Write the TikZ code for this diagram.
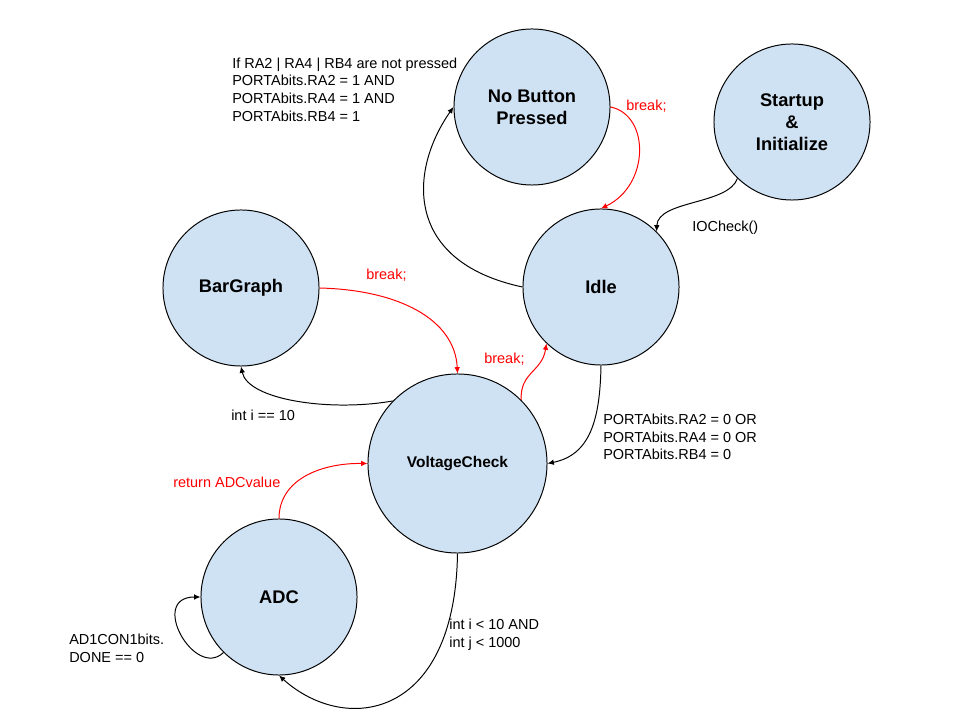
\documentclass[tikz,border=0pt]{standalone}
\usepackage{fontspec}
\setmainfont{Liberation Sans}
\usetikzlibrary{arrows.meta}
\definecolor{stfill}{HTML}{CFE2F3}
\definecolor{brk}{HTML}{FF0000}

\begin{document}
\begin{tikzpicture}[x=0.025cm,y=0.025cm,
   st/.style={circle,draw,fill=stfill,line width=0.7pt,minimum size=3.9cm,
    inner sep=0pt,align=center,font=\fontsize{13}{15.5}\selectfont\bfseries},
   lbl/.style={anchor=west,align=left,inner sep=0pt,
    font=\fontsize{10.3}{12.6}\selectfont},
   tr/.style={line width=0.7pt,-{Latex[length=4.5pt,width=4pt]}},
   trr/.style={tr,draw=brk}
    ]
    \useasboundingbox (0,0) rectangle (960,-720);

    % States:
    \node[st] at (532,-107) (nobtn) {No Button\\Pressed};
    \node[st] at (792,-122) (startup) {Startup\\\&\\Initialize};
    \node[st] at (601,-287) (idle) {Idle};
    \node[st] at (241,-288) (bar) {BarGraph};
    \node[st,minimum size=4.475cm,font=\fontsize{11}{13}\selectfont\bfseries]
        at (457.5,-463.5) (volt) {VoltageCheck};
    \node[st] at (279,-597) (adc) {ADC};

    % Labels:
    \node[lbl] at (232,-89.5) (notpressed) {If RA2 | RA4 | RB4 are not pressed\\
        PORTAbits.RA2 = 1 AND\\PORTAbits.RA4 = 1 AND\\PORTAbits.RB4 = 1};
    \node[lbl,text=brk] at (626,-106) (brk1) {break;};
    \node[lbl] at (692,-228) (iocheck) {IOCheck()};
    \node[lbl,text=brk] at (366,-275) (brk2) {break;};
    \node[lbl] at (231,-415) (iten) {int i == 10};
    \node[lbl,text=brk] at (484,-359) (brk3) {break;};
    \node[lbl] at (603,-437) (pressed) {PORTAbits.RA2 = 0 OR\\
        PORTAbits.RA4 = 0 OR\\PORTAbits.RB4 = 0};
    \node[lbl,text=brk] at (173,-482) (ret) {return ADCvalue};
    \node[lbl] at (449,-634.5) (ilt) {int i < 10 AND\\int j < 1000};
    \node[lbl] at (69,-648) (done) {AD1CON1bits.\\DONE == 0};

    % Transitions:
    \draw[tr] (idle.west) .. controls (405,-262) and (408,-172) .. (nobtn.west);
    \draw[trr] (nobtn.east) .. controls (650,-115) and (650,-185) .. (idle.north);
    \draw[tr] (startup.226) .. controls (728,-205) and (658,-200) .. (idle.45);
    \draw[trr] (bar.east) .. controls (400,-290) and (455,-320) .. (volt.north);
    \draw[tr] (volt.136) .. controls (330,-412) and (248,-400) .. (bar.south);
    \draw[trr] (volt.45) .. controls (520,-372) and (542,-372) .. (idle.226);
    \draw[tr] (idle.south) .. controls (600,-420) and (590,-455) .. (volt.east);
    \draw[trr] (adc.north) .. controls (279,-480) and (320,-463) .. (volt.west);
    \draw[tr] (volt.south) .. controls (455,-720) and (345,-735) .. (adc.south);
    \draw[tr] (adc.225) .. controls (195,-680) and (148,-597) .. (adc.west);

\end{tikzpicture}
\end{document}
